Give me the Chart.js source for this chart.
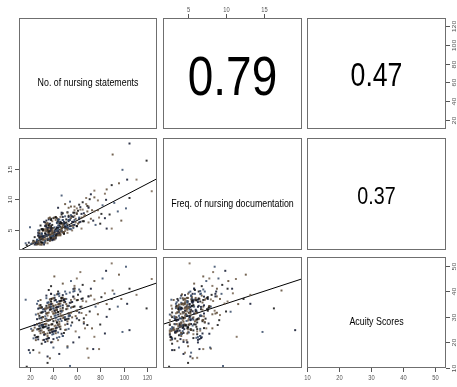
<!DOCTYPE html>
<html>
<head>
<meta charset="utf-8">
<script src="https://cdn.jsdelivr.net/npm/chart.js@4.4.1/dist/chart.umd.min.js"></script>
<style>
  html, body { margin: 0; padding: 0; background: #fff; }
  #wrap { position: relative; width: 457px; height: 387px; }
  #wrap canvas { position: absolute; left: 0; top: 0; }
</style>
</head>
<body>
<div id="wrap"></div>
<script>
// Variable names (diagonal panels)
const varLabels = ["No. of nursing statements", "Freq. of nursing documentation", "Acuity Scores"];

// Correlations shown in the upper panels: [row, col]
const corrCells = [[0, 1], [0, 2], [1, 2]];
const corrValues = ["0.79", "0.47", "0.37"];

// Axis ranges and tick labels
const axisRanges = [[10.6, 128.5], [1.7, 20], [10, 53.4]];
const statementTicks = [20, 40, 60, 80, 100, 120];
const freqTicks = [5, 10, 15];
const acuityTicks = [10, 20, 30, 40, 50];

// Fitted lines in the lower panels: [row, col]
const fitCells = [[1, 0], [2, 0], [2, 1]];
const fitIntercepts = [0.5, 23.1, 25.45];
const fitSlopes = [0.1, 0.157, 0.97];

// Observations (one value per patient, same order in each list)
const nursingStatements = [
  32, 45, 28, 51, 38, 24, 41, 36, 57, 30,
  44, 27, 35, 49, 33, 62, 39, 26, 47, 31,
  53, 37, 29, 42, 68, 34, 22, 46, 40, 55,
  35, 48, 31, 25, 59, 43, 38, 71, 28, 50,
  41, 33, 56, 29, 45, 37, 64, 30, 52, 39,
  27, 47, 36, 43, 32, 58, 24, 40, 34, 75,
  49, 38, 30, 54, 42, 26, 61, 35, 46, 31,
  37, 52, 44, 29, 40, 66, 33, 48, 23, 57,
  43, 35, 28, 50, 39, 45, 31, 60, 36, 42,
  30, 55, 41, 34, 47, 27, 73, 38, 44, 32,
  46, 29, 39, 53, 36, 63, 25, 42, 50, 35,
  40, 48, 33, 57, 28, 44, 37, 69, 31, 45,
  34, 42, 51, 26, 38, 60, 47, 30, 55, 39,
  52, 36, 43, 31, 65, 40, 29, 49, 35, 78,
  38, 27, 46, 41, 33, 56, 44, 24, 50, 37,
  45, 32, 58, 39, 47, 28, 42, 62, 34, 48,
  29, 51, 36, 43, 30, 54, 40, 46, 33, 70,
  41, 35, 49, 26, 44, 38, 59, 31, 53, 42,
  36, 47, 30, 40, 67, 34, 45, 28, 51, 39,
  48, 33, 42, 55, 37, 25, 46, 61, 32, 44,
  31, 43, 38, 52, 29, 41, 35, 57, 47, 36,
  54, 40, 27, 45, 34, 63, 39, 49, 30, 42,
  37, 50, 44, 32, 58, 36, 26, 47, 41, 84,
  43, 29, 53, 38, 46, 33, 72, 40, 35, 48,
  19, 56, 34, 42, 39, 64, 31, 45, 21, 37,
  50, 38, 81, 44, 28, 53, 36, 66, 41, 33,
  105, 90.6, 119.6, 99, 111, 103, 96, 105, 102, 89.8,
  85.5, 40.8, 17.2, 54.2, 75, 85, 85.5, 89.8, 47, 79,
  74, 69, 22.8, 20, 22.8, 35, 37, 35, 16.3, 124,
  72, 75, 65, 82, 60, 70, 78, 88, 92, 66,
  62, 58, 80, 95, 68, 45, 52, 30, 40, 28,
  57, 48, 36, 55, 63, 44, 50, 38, 52, 64,
  84, 98, 60, 76, 70,
  33, 40, 47, 28, 52, 36, 44, 31, 58, 39,
  42, 35, 50, 27, 45, 38, 55, 30, 48, 34,
  37, 46, 29, 53, 41, 32, 49, 43, 26, 60,
  39, 34, 51, 45, 30, 57, 36, 42, 48, 33,
  44, 29, 38, 54, 35, 47, 40, 31, 62, 46,
  32, 43, 36, 50, 41, 27, 53, 38, 45, 58,
  48, 37, 42, 30, 56, 34, 46, 39, 51, 35,
  40, 52, 33, 44, 28, 49, 37, 65, 43, 36
];

const nursingFreq = [
  4.0, 4.4, 4.4, 5.4, 5.0, 2.6, 4.7, 5.7, 5.8, 4.0,
  4.6, 4.0, 3.3, 5.8, 5.1, 6.2, 4.6, 2.7, 6.1, 3.6,
  6.4, 4.1, 3.8, 3.9, 9.2, 4.1, 2.8, 6.0, 4.2, 7.2,
  3.5, 5.5, 5.1, 2.6, 6.2, 5.4, 3.4, 10.0, 3.4, 4.8,
  4.9, 3.2, 7.2, 3.2, 5.7, 3.3, 7.0, 5.1, 5.3, 4.9,
  2.9, 6.0, 3.4, 5.2, 5.0, 5.8, 3.1, 3.5, 4.8, 8.0,
  6.0, 4.2, 3.9, 5.1, 6.6, 3.3, 6.0, 4.9, 4.8, 4.8,
  3.7, 5.9, 6.4, 3.0, 4.3, 7.7, 2.9, 7.7, 2.9, 5.5,
  5.3, 3.6, 4.9, 5.6, 3.5, 5.7, 3.4, 7.6, 3.5, 5.0,
  3.5, 6.9, 3.6, 4.1, 4.7, 4.5, 8.2, 3.6, 5.7, 3.4,
  6.3, 3.1, 5.3, 5.2, 4.3, 8.7, 2.7, 5.1, 5.4, 4.6,
  3.8, 5.4, 6.2, 5.3, 3.9, 4.7, 3.8, 8.9, 3.8, 4.5,
  4.2, 4.1, 6.7, 2.9, 5.0, 5.6, 5.3, 5.1, 5.6, 4.9,
  5.4, 4.9, 4.1, 4.0, 8.3, 4.0, 3.6, 4.4, 4.9, 9.8,
  4.9, 3.1, 5.5, 3.8, 5.7, 6.3, 4.3, 3.8, 5.2, 5.4,
  4.5, 3.9, 7.8, 4.0, 5.0, 3.9, 3.8, 9.1, 4.0, 4.6,
  3.9, 5.2, 5.7, 4.9, 2.6, 6.6, 4.3, 6.2, 3.2, 8.8,
  4.6, 4.9, 4.4, 3.3, 4.4, 5.6, 6.8, 2.9, 6.6, 4.4,
  5.3, 4.9, 4.4, 3.9, 7.4, 5.8, 4.2, 3.7, 5.5, 5.0,
  4.6, 3.9, 7.1, 5.1, 4.8, 2.8, 4.7, 8.1, 3.9, 4.4,
  3.9, 4.2, 5.4, 5.5, 4.1, 3.7, 4.1, 7.8, 4.8, 4.6,
  5.6, 5.3, 2.7, 5.4, 5.2, 6.3, 4.6, 4.4, 4.4, 4.7,
  4.8, 5.4, 5.3, 2.9, 8.2, 4.3, 2.6, 6.1, 4.3, 10.9,
  4.3, 3.6, 7.3, 3.9, 4.9, 4.4, 6.8, 6.9, 4.1, 4.6,
  2.9, 5.7, 5.5, 4.8, 3.5, 7.6, 3.4, 6.1, 2.7, 4.5,
  5.5, 5.2, 7.6, 5.1, 2.8, 7.1, 4.5, 6.4, 5.4, 3.5,
  19.1, 17.3, 16.3, 14.8, 13.2, 13.2, 12.6, 10.2, 8.5, 5.2,
  5.2, 7.0, 2.5, 9.6, 11.4, 9.9, 11.6, 12.3, 10.6, 7.0,
  6.5, 8.0, 3.2, 5.4, 3.0, 5.3, 5.6, 5.0, 2.8, 11.3,
  10.8, 10.3, 9.5, 9.0, 7.8, 8.6, 8.2, 7.5, 9.4, 7.2,
  6.8, 8.8, 6.0, 8.0, 10.2, 4.4, 5.0, 2.9, 3.8, 4.6,
  6.3, 5.8, 5.9, 7.4, 8.3, 8.6, 9.2, 6.8, 7.9, 5.2,
  6.9, 6.5, 5.6, 5.8, 6.2,
  5.6, 3.5, 7.5, 4.1, 4.5, 6.7, 4.1, 5.0, 6.6, 6.4,
  3.6, 6.1, 6.1, 4.9, 4.1, 5.2, 8.8, 2.9, 6.6, 4.9,
  6.0, 4.1, 5.7, 6.6, 3.4, 6.3, 4.6, 6.2, 3.4, 8.5,
  3.3, 6.0, 6.2, 6.7, 2.6, 7.1, 6.9, 4.1, 6.6, 4.8,
  6.7, 2.6, 6.6, 6.7, 2.8, 7.8, 3.7, 5.0, 7.0, 7.1,
  2.6, 6.9, 4.7, 7.2, 3.7, 4.1, 8.6, 3.7, 6.3, 7.3,
  7.1, 3.2, 7.0, 4.3, 4.9, 6.5, 4.3, 5.8, 5.9, 6.0,
  3.4, 7.8, 4.4, 6.6, 2.6, 6.3, 7.0, 6.4, 6.1, 5.1
];

const acuityScores = [
  33.0, 28.1, 29.4, 25.0, 36.0, 26.8, 32.4, 24.7, 40.9, 26.7,
  26.9, 31.2, 21.5, 36.7, 29.2, 31.7, 37.1, 22.1, 32.4, 31.9,
  34.3, 23.8, 33.6, 29.6, 30.7, 38.3, 24.5, 32.2, 23.3, 36.6,
  28.5, 37.5, 26.9, 30.9, 24.3, 32.8, 34.0, 32.1, 33.4, 26.9,
  37.4, 27.2, 27.8, 29.6, 34.1, 23.8, 34.0, 33.7, 29.2, 20.1,
  21.2, 37.4, 28.7, 32.8, 24.0, 41.1, 25.8, 34.3, 26.3, 36.8,
  36.7, 30.0, 26.7, 39.5, 24.6, 29.1, 36.6, 25.5, 34.2, 20.9,
  28.8, 28.2, 39.9, 25.6, 31.3, 27.4, 33.2, 33.5, 21.6, 37.9,
  33.8, 20.5, 30.4, 35.9, 27.1, 36.1, 23.9, 32.4, 35.7, 28.6,
  29.7, 35.6, 24.4, 29.3, 36.4, 25.2, 25.5, 37.0, 28.9, 24.0,
  29.2, 36.6, 25.1, 34.3, 28.7, 39.9, 20.9, 31.6, 28.9, 33.5,
  33.3, 32.5, 23.2, 39.9, 26.4, 30.9, 34.8, 26.8, 31.9, 27.1,
  33.3, 23.6, 33.0, 25.1, 39.0, 29.4, 30.4, 33.7, 26.6, 32.1,
  27.2, 34.7, 27.8, 32.9, 36.2, 21.3, 31.6, 29.7, 35.5, 35.2,
  20.0, 25.2, 36.2, 30.4, 23.2, 35.8, 31.9, 22.8, 29.9, 36.8,
  35.1, 26.0, 34.1, 23.1, 37.4, 27.4, 32.6, 28.7, 37.3, 29.5,
  24.6, 35.0, 21.7, 35.8, 28.7, 30.5, 37.3, 25.2, 30.2, 38.0,
  32.4, 23.5, 36.7, 27.1, 26.9, 39.0, 30.3, 29.9, 25.3, 34.6,
  28.7, 37.4, 26.7, 33.3, 25.5, 31.3, 35.1, 25.4, 37.0, 25.1,
  38.5, 27.2, 25.6, 33.6, 32.8, 21.9, 31.2, 38.6, 26.0, 20.9,
  26.9, 38.8, 25.0, 34.2, 27.6, 36.4, 22.5, 33.9, 28.4, 33.7,
  35.5, 31.3, 22.2, 38.1, 27.3, 33.9, 35.1, 23.7, 31.7, 26.6,
  33.8, 24.9, 31.9, 26.0, 42.1, 25.7, 27.1, 36.4, 24.4, 39.2,
  25.8, 33.6, 29.3, 34.0, 33.2, 20.2, 38.3, 28.3, 35.5, 30.5,
  17.0, 29.8, 34.3, 30.6, 24.1, 37.0, 29.9, 26.1, 25.3, 36.8,
  35.9, 27.0, 37.7, 23.9, 34.4, 31.3, 31.7, 29.4, 38.4, 27.2,
  24.8, 40.3, 33.3, 24.1, 38.6, 35.1, 46.5, 41, 49.6, 50.9,
  30, 45.8, 10.5, 10.8, 22.2, 48, 35, 37, 32, 17.4,
  17.4, 17.6, 17, 16, 24.8, 14.5, 13.8, 12, 36.7, 44.8,
  41, 44, 42.5, 45, 45, 38, 31, 33, 39, 28,
  22, 41, 27, 34, 36, 15.5, 18.5, 19.5, 18, 16,
  20, 43, 40.5, 44, 47.5, 39, 37, 42, 18, 31.5,
  23.5, 37, 36.5, 34, 14,
  32.2, 25.3, 37.4, 26.4, 33.2, 21.7, 34.9, 25.9, 40.1, 29.1,
  24.6, 31.5, 28.9, 36.2, 27.1, 35.0, 31.6, 31.7, 22.5, 33.3,
  32.8, 26.2, 34.6, 30.3, 31.4, 21.0, 35.7, 27.8, 35.1, 32.4,
  24.1, 31.3, 29.0, 39.1, 24.7, 37.9, 28.7, 33.6, 22.5, 33.2,
  33.9, 23.6, 36.0, 30.5, 30.5, 23.4, 34.3, 25.9, 40.7, 30.2,
  23.0, 32.8, 26.7, 39.9, 26.4, 33.2, 31.3, 33.0, 22.1, 37.1,
  34.5, 24.8, 36.6, 26.7, 33.8, 21.3, 35.2, 27.1, 39.0, 28.5,
  24.3, 34.2, 26.2, 38.9, 24.4, 36.7, 28.8, 37.2, 21.8, 33.7
];

const variables = [nursingStatements, nursingFreq, acuityScores];
const varTicks = [statementTicks, freqTicks, acuityTicks];

// Page layout (pixels)
const W = 457, H = 387;
const colEdges = [[19, 157], [163, 302], [307, 446]];
const rowEdges = [[18, 129], [138, 250], [257, 368]];
const corrSizes = [56, 32.5, 24];
const FONT = '"Liberation Sans", Arial, Helvetica, sans-serif';
const SQUEEZE = 0.82; // the original picture is a little narrow
const frameColor = "#6f6f6f";
const tickColor = "#555";
const dotColors = [
  "rgba(25, 32, 55, 0.9)",
  "rgba(90, 72, 50, 0.85)",
  "rgba(15, 15, 15, 0.85)",
  "rgba(55, 75, 105, 0.85)",
  "rgba(110, 90, 70, 0.8)"
];

// Which outer axes each panel carries (R pairs style)
const outerAxes = {
  "0,1": [{ side: "top", v: 1 }],
  "0,2": [{ side: "right", v: 0 }],
  "1,0": [{ side: "left", v: 1 }],
  "2,0": [{ side: "bottom", v: 0 }],
  "2,2": [{ side: "bottom", v: 2 }, { side: "right", v: 2 }]
};

function drawText(ctx, text, x, y, size, color, rotate) {
  ctx.save();
  ctx.translate(x, y);
  ctx.scale(SQUEEZE, 1);
  if (rotate) ctx.rotate(-Math.PI / 2);
  ctx.font = `${size}px ${FONT}`;
  ctx.fillStyle = color;
  ctx.textAlign = "center";
  ctx.textBaseline = "alphabetic";
  // centre the digit/cap height on y
  ctx.fillText(text, 0, size * 0.358);
  ctx.restore();
}

const pairsPanel = {
  id: "pairsPanel",
  afterDatasetsDraw(chart, args, opts) {
    const ctx = chart.ctx;
    const a = chart.chartArea;
    const cx = (a.left + a.right) / 2;
    const cy = (a.top + a.bottom) / 2;

    ctx.save();
    ctx.strokeStyle = frameColor;
    ctx.lineWidth = 1;
    ctx.strokeRect(a.left + 0.5, a.top + 0.5, a.right - a.left - 1, a.bottom - a.top - 1);

    if (opts.label) drawText(ctx, opts.label, cx, cy + 8.8, 10.8, "#000");
    if (opts.corr) drawText(ctx, opts.corr, cx, cy + 1, opts.corrSize, "#000");

    (opts.axes || []).forEach((ax) => {
      const ticks = varTicks[ax.v];
      const horiz = ax.side === "top" || ax.side === "bottom";
      const scale = horiz ? chart.scales.x : chart.scales.y;
      ctx.strokeStyle = tickColor;
      ticks.forEach((t) => {
        const p = Math.round(scale.getPixelForValue(t)) + 0.5;
        ctx.beginPath();
        if (ax.side === "bottom") {
          ctx.moveTo(p, a.bottom); ctx.lineTo(p, a.bottom + 4);
        } else if (ax.side === "top") {
          ctx.moveTo(p, a.top); ctx.lineTo(p, a.top - 4);
        } else if (ax.side === "left") {
          ctx.moveTo(a.left, p); ctx.lineTo(a.left - 4, p);
        } else {
          ctx.moveTo(a.right, p); ctx.lineTo(a.right + 4, p);
        }
        ctx.stroke();
        const s = String(t);
        if (ax.side === "bottom") drawText(ctx, s, p, a.bottom + 9.5, 7, tickColor);
        else if (ax.side === "top") drawText(ctx, s, p, a.top - 9, 7, tickColor);
        else if (ax.side === "left") drawText(ctx, s, a.left - 9, p, 7, tickColor, true);
        else drawText(ctx, s, a.right + 8, p, 7, tickColor, true);
      });
    });
    ctx.restore();
  }
};

const wrap = document.getElementById("wrap");

function makePanel(row, col) {
  const canvas = document.createElement("canvas");
  canvas.width = W;
  canvas.height = H;
  wrap.appendChild(canvas);

  const [x0, x1] = colEdges[col];
  const [y0, y1] = rowEdges[row];
  const datasets = [];
  const opts = { axes: outerAxes[row + "," + col] };

  if (row > col) {
    const xs = variables[col];
    const ys = variables[row];
    const n = Math.min(xs.length, ys.length);
    const pts = [];
    for (let i = 0; i < n; i++) pts.push({ x: xs[i], y: ys[i] });
    datasets.push({
      type: "scatter",
      data: pts,
      pointStyle: "rect",
      pointRadius: 1.4,
      borderWidth: 0,
      backgroundColor: (c) => dotColors[c.dataIndex % dotColors.length]
    });
    const k = fitCells.findIndex((c) => c[0] === row && c[1] === col);
    const [lo, hi] = axisRanges[col];
    datasets.push({
      type: "line",
      data: [
        { x: lo, y: fitIntercepts[k] + fitSlopes[k] * lo },
        { x: hi, y: fitIntercepts[k] + fitSlopes[k] * hi }
      ],
      borderColor: "#000",
      borderWidth: 1,
      pointRadius: 0,
      fill: false
    });
  } else if (row === col) {
    opts.label = varLabels[row];
  } else {
    const k = corrCells.findIndex((c) => c[0] === row && c[1] === col);
    opts.corr = corrValues[k];
    opts.corrSize = corrSizes[k];
  }

  new Chart(canvas, {
    type: "scatter",
    data: { datasets },
    options: {
      responsive: false,
      animation: false,
      events: [],
      layout: { padding: { left: x0, right: W - x1, top: y0, bottom: H - y1 } },
      scales: {
        x: { type: "linear", display: false, min: axisRanges[col][0], max: axisRanges[col][1] },
        y: { type: "linear", display: false, min: axisRanges[row][0], max: axisRanges[row][1] }
      },
      plugins: {
        legend: { display: false },
        tooltip: { enabled: false },
        pairsPanel: opts
      }
    },
    plugins: [pairsPanel]
  });
}

for (let r = 0; r < 3; r++) {
  for (let c = 0; c < 3; c++) makePanel(r, c);
}
</script>
</body>
</html>
